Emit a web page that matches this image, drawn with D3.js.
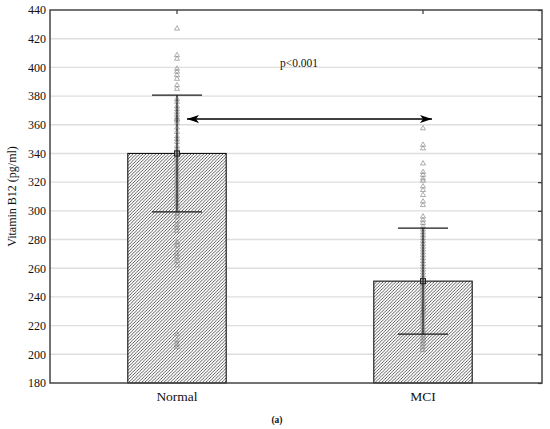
<!DOCTYPE html>
<html>
<head>
<meta charset="utf-8">
<script src="https://cdn.jsdelivr.net/npm/d3@7"></script>
<style>
  body { margin: 0; background: #fff; }
  text { font-family: "Liberation Serif", "DejaVu Serif", serif; fill: #111; }
</style>
</head>
<body>
<div id="chart"></div>
<script>
// DATA
const groups = ["Normal", "MCI"];
const means = [340, 251];
const sdUpper = [380.7, 288];
const sdLower = [299.3, 214];
const yTicks = [180, 200, 220, 240, 260, 280, 300, 320, 340, 360, 380, 400, 420, 440];

const normalValues = [427, 408.5, 406, 399, 397, 394.5, 392, 387.5, 385, 378, 376, 373, 371, 369,
  367, 365, 364, 363, 361, 358, 355, 352, 350, 348, 345, 343, 341, 340, 339, 337, 335, 333, 330,
  328, 326, 324, 321, 319, 317, 315, 312, 310, 308, 305, 303, 300, 298, 296, 293, 290, 288, 286,
  278, 276, 273, 270, 268, 265, 262, 214, 210, 207, 205];
const mciValues = [357.5, 346, 343.5, 333, 327, 325, 322.5, 321, 317, 314.5, 311, 306.5, 304, 296,
  293.5, 291.5, 289, 287, 285, 283, 281, 279, 277, 275, 273, 271, 269, 267, 265, 263, 261, 259,
  257, 255, 253, 251, 249, 247, 245, 243, 241, 239, 237, 235, 233, 231, 229, 227, 225, 223, 221,
  219, 217, 215, 213, 211, 209, 207, 205, 203];
const pointValues = [normalValues, mciValues];

const arrowValue = 364;
const pLabel = "p<0.001";
const yLabel = "Vitamin B12 (pg/ml)";
const panelLabel = "(a)";

// LAYOUT
const width = 550, height = 429;
const margin = { top: 10, right: 8, bottom: 46, left: 50 };
const innerWidth = width - margin.left - margin.right;
const innerHeight = height - margin.top - margin.bottom;

const svg = d3.select("#chart").append("svg")
  .attr("width", width)
  .attr("height", height);

// hatch pattern for bars
const defs = svg.append("defs");
const pat = defs.append("pattern")
  .attr("id", "hatch")
  .attr("patternUnits", "userSpaceOnUse")
  .attr("width", 3.2)
  .attr("height", 3.2);
pat.append("rect").attr("width", 3.2).attr("height", 3.2).attr("fill", "#fff");
pat.append("path")
  .attr("d", "M-0.8,0.8 L0.8,-0.8 M0,3.2 L3.2,0 M2.4,4 L4,2.4")
  .attr("stroke", "#333")
  .attr("stroke-width", 0.8);

const g = svg.append("g")
  .attr("transform", `translate(${margin.left}, ${margin.top})`);

const yScale = d3.scaleLinear()
  .domain([180, 440])
  .range([innerHeight, 0]);

const xScale = d3.scaleBand()
  .domain(groups)
  .range([4, innerWidth + 4]);

const cx = d => xScale(d) + xScale.bandwidth() / 2;
const barWidth = xScale.bandwidth() * 0.4;

// gridlines
g.selectAll(".grid").data(yTicks.slice(1, -1)).enter().append("line")
  .attr("class", "grid")
  .attr("x1", 0).attr("x2", innerWidth)
  .attr("y1", d => yScale(d)).attr("y2", d => yScale(d))
  .attr("stroke", "#dedede")
  .attr("stroke-width", 1.4);

// y axis labels (left)
const yAxis = d3.axisLeft(yScale).tickValues(yTicks).tickSize(0).tickPadding(4);
const yAxisG = g.append("g").attr("class", "y-axis").call(yAxis);
yAxisG.select(".domain").remove();
yAxisG.selectAll("text")
  .attr("font-size", 12)
  .attr("font-family", "Liberation Serif, serif")
  .attr("fill", "#111");

// right inner ticks
const yRight = d3.axisLeft(yScale).tickValues(yTicks).tickSize(4).tickFormat("");
const yRightG = g.append("g").attr("transform", `translate(${innerWidth}, 0)`).call(yRight);
yRightG.select(".domain").remove();
yRightG.selectAll("line").attr("stroke", "#333").attr("stroke-width", 1.2);

// top inner ticks
const xTop = d3.axisBottom(xScale).tickSize(4).tickFormat("");
const xTopG = g.append("g").call(xTop);
xTopG.select(".domain").remove();
xTopG.selectAll("line").attr("stroke", "#333").attr("stroke-width", 1.2);

// bars
g.selectAll(".bar").data(groups).enter().append("rect")
  .attr("class", "bar")
  .attr("x", d => cx(d) - barWidth / 2)
  .attr("width", barWidth)
  .attr("y", (d, i) => yScale(means[i]))
  .attr("height", (d, i) => innerHeight - yScale(means[i]))
  .attr("fill", "url(#hatch)")
  .attr("stroke", "#111")
  .attr("stroke-width", 1.1);

// raw points (open triangles)
const tri = d3.symbol().type(d3.symbolTriangle).size(11);
groups.forEach((grp, i) => {
  g.selectAll(`.pt-${i}`).data(pointValues[i]).enter().append("path")
    .attr("class", `pt-${i}`)
    .attr("d", tri)
    .attr("transform", d => `translate(${cx(grp)}, ${yScale(d)})`)
    .attr("fill", "none")
    .attr("stroke", "#8a8a8a")
    .attr("stroke-width", 0.7);
});

// error bars
const capHalf = 25;
groups.forEach((grp, i) => {
  const x = cx(grp);
  const eb = g.append("g").attr("stroke", "#1a1a1a").attr("stroke-width", 1.2);
  eb.append("line")
    .attr("x1", x).attr("x2", x)
    .attr("y1", yScale(sdLower[i])).attr("y2", yScale(sdUpper[i]));
  [sdLower[i], sdUpper[i]].forEach(v => {
    eb.append("line")
      .attr("x1", x - capHalf).attr("x2", x + capHalf)
      .attr("y1", yScale(v)).attr("y2", yScale(v));
  });
  // mean marker
  g.append("rect")
    .attr("x", x - 2.5).attr("y", yScale(means[i]) - 2.5)
    .attr("width", 5).attr("height", 5)
    .attr("fill", "none")
    .attr("stroke", "#222")
    .attr("stroke-width", 1);
});

// double-headed arrow
defs.append("marker")
  .attr("id", "arrowhead")
  .attr("viewBox", "0 0 12 8")
  .attr("refX", 12).attr("refY", 4)
  .attr("markerWidth", 12).attr("markerHeight", 8)
  .attr("markerUnits", "userSpaceOnUse")
  .attr("orient", "auto-start-reverse")
  .append("path")
  .attr("d", "M0,0 L12,4 L0,8 L3,4 Z")
  .attr("fill", "#000");

g.append("line")
  .attr("x1", cx(groups[0]) + 10)
  .attr("x2", cx(groups[1]) + 9)
  .attr("y1", yScale(arrowValue)).attr("y2", yScale(arrowValue))
  .attr("stroke", "#000")
  .attr("stroke-width", 1.4)
  .attr("marker-start", "url(#arrowhead)")
  .attr("marker-end", "url(#arrowhead)");

g.append("text")
  .attr("x", (cx(groups[0]) + cx(groups[1])) / 2 - 1)
  .attr("y", yScale(arrowValue) - 52)
  .attr("text-anchor", "middle")
  .attr("font-size", 11.5)
  .text(pLabel);

// frame
g.append("rect")
  .attr("width", innerWidth)
  .attr("height", innerHeight)
  .attr("fill", "none")
  .attr("stroke", "#444")
  .attr("stroke-width", 1.5);

// x labels
g.selectAll(".x-label").data(groups).enter().append("text")
  .attr("class", "x-label")
  .attr("x", d => cx(d))
  .attr("y", innerHeight + 18)
  .attr("text-anchor", "middle")
  .attr("font-size", 13.5)
  .text(d => d);

// y label
svg.append("text")
  .attr("transform", `translate(16, ${margin.top + innerHeight / 2}) rotate(-90)`)
  .attr("text-anchor", "middle")
  .attr("font-size", 12)
  .text(yLabel);

// panel label
svg.append("text")
  .attr("x", 277)
  .attr("y", height - 6)
  .attr("text-anchor", "middle")
  .attr("font-size", 9.5)
  .attr("font-weight", "bold")
  .text(panelLabel);
</script>
</body>
</html>
